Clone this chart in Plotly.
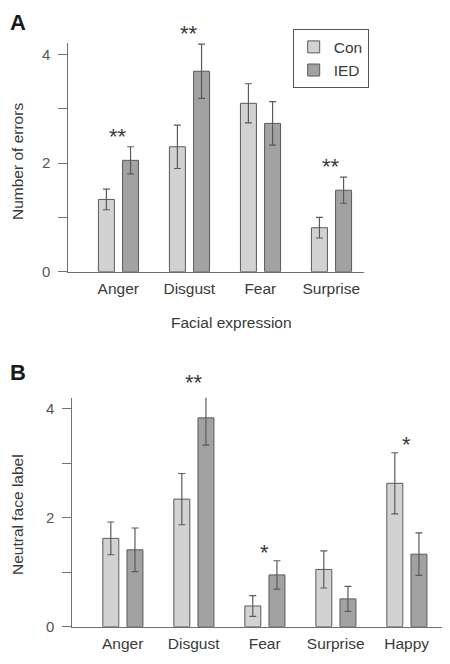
import plotly.graph_objects as go

# ---- Data ----
cats_a = ["Anger", "Disgust", "Fear", "Surprise"]
con_a = [1.33, 2.30, 3.10, 0.81]
con_a_err = [0.19, 0.40, 0.36, 0.19]
ied_a = [2.05, 3.69, 2.73, 1.50]
ied_a_err = [0.25, 0.50, 0.40, 0.24]
sig_a = ["**", "**", "", "**"]

cats_b = ["Anger", "Disgust", "Fear", "Surprise", "Happy"]
con_b = [1.62, 2.34, 0.38, 1.05, 2.63]
con_b_err = [0.30, 0.47, 0.19, 0.34, 0.56]
ied_b = [1.41, 3.83, 0.95, 0.51, 1.33]
ied_b_err = [0.40, 0.50, 0.26, 0.23, 0.39]
sig_b = ["", "**", "*", "", "*"]

y_ticks = [0, 1, 2, 3, 4]
y_ticktext = ["0", "", "2", "", "4"]

# ---- Style ----
# The page body has an 8px default margin, so the figure is drawn at (8, 8);
# size it to fill the rest of the 450x664 window and place things in window pixels.
PAGE_W, PAGE_H, BODY = 450, 664, 8
W, H = PAGE_W - BODY, PAGE_H - BODY
FONT = "Liberation Sans, Arial, sans-serif"
CON_COL = "#d2d2d2"
IED_COL = "#a2a2a2"
EDGE = "#5a5a5a"
AX = "#707070"
TXT = "#3a3a3a"
BW = 0.225

# panel geometry (window pixels)
A_X0, A_X1, A_YB, A_YT, A_RANGE = 68.3, 364, 271.7, 43, 4.21
B_X0, B_X1, B_YB, B_YT, B_RANGE = 72.3, 442.7, 626.7, 397.7, 4.2


def px_x(p):
    return (p - BODY) / W


def px_y(p):
    return 1 - (p - BODY) / H


fig = go.Figure()


def add_bars(cats, con, con_e, ied, ied_e, xa, ya, show):
    xs = list(range(len(cats)))
    fig.add_trace(go.Bar(
        x=xs, y=con, width=BW, offset=-0.28, name="Con", showlegend=show,
        legendgroup="Con", cliponaxis=False,
        marker=dict(color=CON_COL, line=dict(color=EDGE, width=1)),
        error_y=dict(type="data", array=con_e, color=EDGE, thickness=1.2, width=3.5),
        xaxis=xa, yaxis=ya))
    fig.add_trace(go.Bar(
        x=xs, y=ied, width=BW, offset=0.06, name="IED", showlegend=show,
        legendgroup="IED", cliponaxis=False,
        marker=dict(color=IED_COL, line=dict(color=EDGE, width=1)),
        error_y=dict(type="data", array=ied_e, color=EDGE, thickness=1.2, width=3.5),
        xaxis=xa, yaxis=ya))


add_bars(cats_a, con_a, con_a_err, ied_a, ied_a_err, "x", "y", True)
add_bars(cats_b, con_b, con_b_err, ied_b, ied_b_err, "x2", "y2", False)

annotations = []


def add_sig(sig, con, con_e, ied, ied_e, xref, yb, yt, yrange, pad):
    for i, s in enumerate(sig):
        if s:
            top = max(con[i] + con_e[i], ied[i] + ied_e[i]) + pad
            # convert data value to paper coords (so it is not hidden above the range)
            ypx = yb - (yb - yt) * top / yrange
            annotations.append(dict(
                x=i, y=px_y(ypx), xref=xref, yref="paper", text=s, showarrow=False,
                font=dict(family=FONT, size=22, color=TXT), yanchor="middle"))


add_sig(sig_a, con_a, con_a_err, ied_a, ied_a_err, "x", A_YB, A_YT, A_RANGE, 0.19)
add_sig(sig_b, con_b, con_b_err, ied_b, ied_b_err, "x2", B_YB, B_YT, B_RANGE, 0.15)

# panel letters
annotations.append(dict(x=px_x(8), y=1, xref="paper", yref="paper", text="<b>A</b>",
                        showarrow=False, xanchor="left", yanchor="top",
                        font=dict(family=FONT, size=22, color="#1a1a1a")))
annotations.append(dict(x=px_x(8), y=px_y(372), xref="paper", yref="paper", text="<b>B</b>",
                        showarrow=False, xanchor="left", yanchor="middle",
                        font=dict(family=FONT, size=22, color="#1a1a1a")))
# axis titles
annotations.append(dict(x=px_x(231), y=px_y(322), xref="paper", yref="paper",
                        text="Facial expression", showarrow=False,
                        xanchor="center", yanchor="middle",
                        font=dict(family=FONT, size=15.5, color=TXT)))
annotations.append(dict(x=px_x(17), y=px_y(162), xref="paper", yref="paper",
                        text="Number of errors", showarrow=False, textangle=-90,
                        xanchor="center", yanchor="middle",
                        font=dict(family=FONT, size=15.5, color=TXT)))
annotations.append(dict(x=px_x(17), y=px_y(515), xref="paper", yref="paper",
                        text="Neutral face label", showarrow=False, textangle=-90,
                        xanchor="center", yanchor="middle",
                        font=dict(family=FONT, size=15.5, color=TXT)))

yaxis_common = dict(
    tickmode="array", tickvals=y_ticks, ticktext=y_ticktext,
    showline=True, linecolor=AX, linewidth=1, ticks="outside", ticklen=9,
    tickcolor=AX, tickwidth=1, showgrid=False, zeroline=False,
    tickfont=dict(family=FONT, size=15, color="#555555"),
    ticklabelstandoff=5, fixedrange=True, automargin=False)
xaxis_common = dict(
    tickmode="array", showline=True, linecolor=AX, linewidth=1.2,
    ticks="", showgrid=False, zeroline=False, automargin=False,
    tickfont=dict(family=FONT, size=15.5, color=TXT), ticklabelstandoff=3)

fig.update_layout(
    width=W, height=H, margin=dict(l=0, r=0, t=0, b=0, autoexpand=False),
    paper_bgcolor="white", plot_bgcolor="white", barmode="overlay",
    font=dict(family=FONT, color=TXT),
    xaxis=dict(domain=[px_x(A_X0), px_x(A_X1)], range=[-0.704, 3.46],
               tickvals=list(range(len(cats_a))), ticktext=cats_a, anchor="y",
               **xaxis_common),
    yaxis=dict(domain=[px_y(A_YB), px_y(A_YT)], range=[0, A_RANGE], anchor="x",
               **yaxis_common),
    xaxis2=dict(domain=[px_x(B_X0), px_x(B_X1)], range=[-0.71, 4.507],
                tickvals=list(range(len(cats_b))), ticktext=cats_b, anchor="y2",
                **xaxis_common),
    yaxis2=dict(domain=[px_y(B_YB), px_y(B_YT)], range=[0, B_RANGE], anchor="x2",
                **yaxis_common),
    legend=dict(x=px_x(292.7), y=px_y(29.3), xanchor="left", yanchor="top",
                bordercolor="#555555", borderwidth=1, bgcolor="white",
                font=dict(family=FONT, size=15.5, color=TXT),
                itemwidth=30, tracegroupgap=0),
    annotations=annotations,
    showlegend=True,
)

fig.write_html("out.html")
